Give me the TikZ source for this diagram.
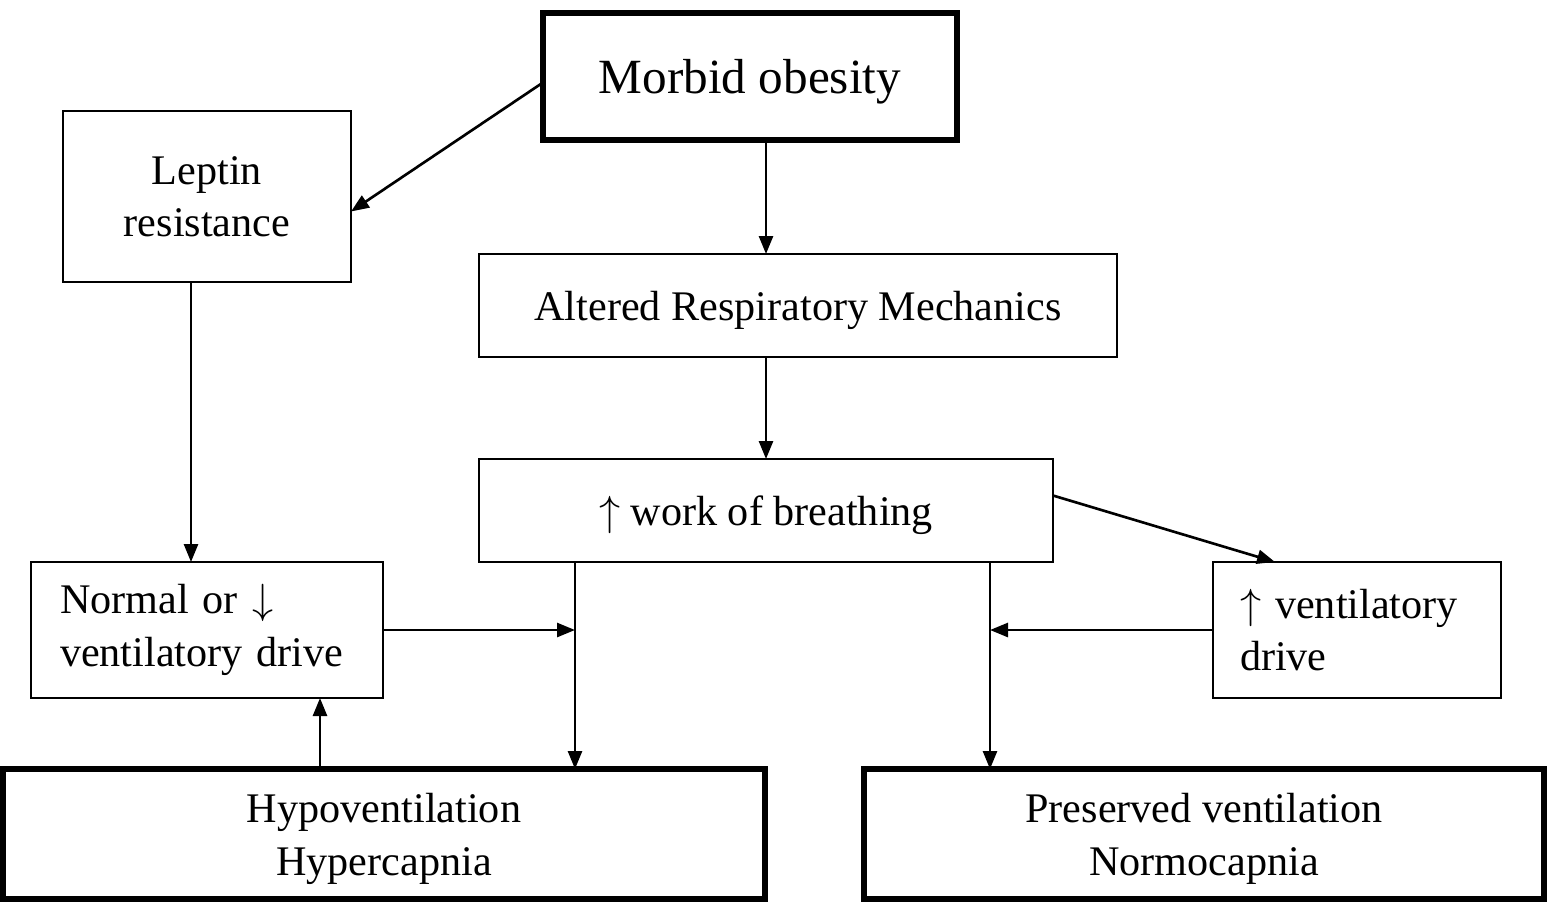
\documentclass[tikz,border=0pt]{standalone}
\usepackage{fontspec}
\setmainfont{Liberation Serif}
\usepackage{tikz}
\usetikzlibrary{arrows.meta, positioning, calc}

\begin{document}
\begin{tikzpicture}[
    box/.style={draw, line width=0.6pt, inner sep=0pt, outer sep=0pt, align=center,
        text depth=0pt, font=\fontsize{12}{15}\selectfont},
    heavybox/.style={box, line width=1.7pt},
    leftbox/.style={box, text depth={}, align=left},
    arr/.style={line width=0.75pt, -{Triangle[length=1.8mm, width=1.4mm]}}
]
    \useasboundingbox (0,0) rectangle (15.47,9.02);

    \node[heavybox, minimum width=4.14cm, minimum height=1.27cm, font=\fontsize{14}{17}\selectfont] (obesity) at (7.50,8.255) {Morbid obesity};
    \node[box, minimum width=2.88cm, minimum height=1.71cm] (leptin) at (2.07,7.055) {Leptin\\resistance};
    \node[box, minimum width=6.38cm, minimum height=1.03cm] (mechanics) at (7.98,5.965) {Altered Respiratory Mechanics};
    \node[box, minimum width=5.74cm, minimum height=1.03cm] (work) at (7.66,3.915) {$\uparrow$ work of breathing};
    \node[leftbox, minimum width=3.52cm, minimum height=1.36cm, text width=2.94cm] (lowdrive) at (2.07,2.72) {Normal or $\downarrow$\\ventilatory drive};
    \node[leftbox, minimum width=2.88cm, minimum height=1.36cm, text width=2.34cm] (highdrive) at (13.57,2.72) {$\uparrow$ ventilatory\\drive};
    \node[heavybox, minimum width=7.62cm, minimum height=1.30cm] (hypo) at (3.84,0.68) {Hypoventilation\\Hypercapnia};
    \node[heavybox, minimum width=6.80cm, minimum height=1.30cm] (preserved) at (12.04,0.68) {Preserved ventilation\\Normocapnia};

    \coordinate (leftjoin) at (5.75,2.72);
    \coordinate (rightjoin) at (9.90,2.72);
    \coordinate (feedback) at (3.20,0);
    \coordinate (leptinout) at (1.91,0);

    \draw[arr] ([yshift=-0.6mm]obesity.west) -- ([yshift=-1.5mm]leptin.east);
    \draw[arr] (obesity.south -| work) -- (mechanics.north -| work);
    \draw[arr] (mechanics.south -| work) -- (work.north);
    \draw[arr] ([yshift=1.5mm]work.east) -- ([xshift=-8.2mm]highdrive.north);
    \draw[arr] (leptin.south -| leptinout) -- (lowdrive.north -| leptinout);
    \draw[arr] (work.south -| leftjoin) -- (hypo.north -| leftjoin);
    \draw[arr] (lowdrive.east) -- (leftjoin);
    \draw[arr] (hypo.north -| feedback) -- (lowdrive.south -| feedback);
    \draw[arr] (work.south -| rightjoin) -- (preserved.north -| rightjoin);
    \draw[arr] (highdrive.west) -- (rightjoin);
\end{tikzpicture}
\end{document}
